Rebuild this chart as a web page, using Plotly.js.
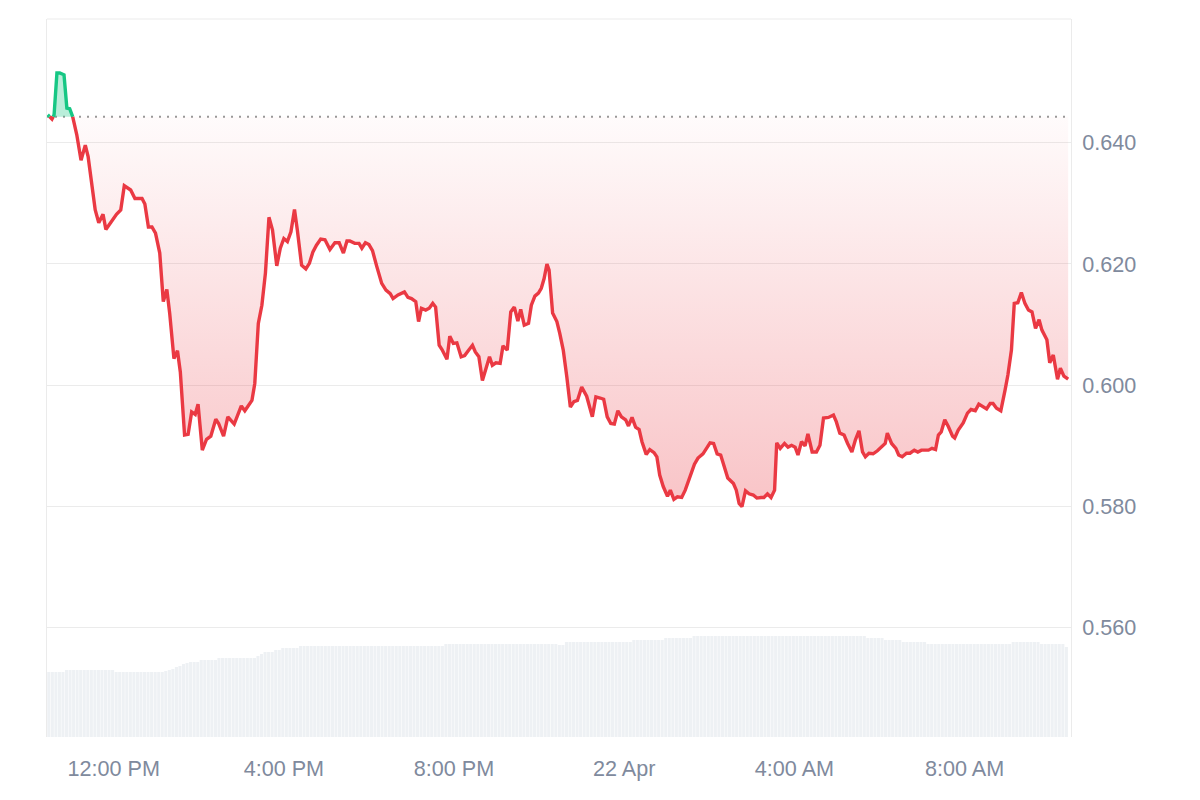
<!DOCTYPE html>
<html><head><meta charset="utf-8">
<script src="https://cdn.plot.ly/plotly-3.0.1.min.js"></script>
<style>html,body{margin:0;padding:0;background:#fff}#chart{width:1200px;height:800px}</style>
</head><body><div id="chart"></div>
<script>
// ---- data ----
const startTime = Date.UTC(2025, 3, 21, 10, 26);   // 21 Apr 10:26
const baselinePrice = 0.6443;                        // price 24h ago (dotted line)

// minutes after start time
const priceMinutes = [1,7,10,14,18,24,28,32,36,42,48,54,58,68,73,79,83,91,98,104,109,118,124,134,138,143,148,153,159,164,169,173,179,184,188,194,199,204,209,213,219,225,231,238,242,249,255,264,274,279,289,293,298,303,308,313,318,324,329,334,339,344,349,353,359,365,370,375,380,386,392,399,406,412,418,423,427,434,440,444,449,454,459,465,472,478,484,488,495,504,509,514,520,524,528,534,539,544,548,553,557,564,568,573,578,584,589,594,600,604,609,614,619,624,628,633,639,643,649,654,659,664,668,673,679,683,688,693,697,701,705,708,713,719,723,728,733,738,743,748,754,761,769,774,780,785,790,795,800,805,810,816,820,825,830,835,839,845,850,856,860,864,869,875,879,884,889,895,900,907,913,918,925,930,935,940,945,950,955,960,968,972,976,980,985,990,996,1001,1007,1011,1016,1021,1026,1029,1034,1040,1045,1050,1055,1059,1064,1069,1073,1079,1085,1090,1095,1102,1109,1113,1118,1124,1129,1135,1140,1145,1150,1154,1159,1165,1171,1177,1182,1185,1191,1197,1201,1206,1212,1217,1223,1228,1233,1243,1248,1253,1257,1261,1266,1271,1277,1280,1285,1292,1298,1303,1309,1314,1320,1325,1330,1334,1339,1345,1351,1355,1360,1364,1369,1374,1379,1384,1389,1394,1399,1403,1410,1414,1419,1425,1429,1434,1440];

const prices = [0.6446,0.6439,0.6446,0.6515,0.6515,0.6512,0.6457,0.6456,0.6444,
0.6413,0.6371,0.6396,0.6377,0.6289,0.6268,0.6282,0.6257,0.6270,0.6282,0.6289,0.6329,0.6322,0.6308,0.6308,0.6299,0.6261,0.6261,0.6251,0.6218,0.6138,0.6158,0.6119,0.6044,0.6057,0.6022,0.5918,0.5919,0.5956,0.5952,0.5969,0.5893,0.5911,0.5916,0.5944,0.5937,0.5916,0.5948,0.5936,0.5966,0.5958,0.5975,0.6003,0.6102,0.6132,0.6185,0.6277,0.6256,0.6197,0.6226,0.6242,0.6237,0.6253,0.6290,0.6256,0.6198,0.6192,0.6201,0.6220,0.6231,0.6241,0.6240,0.6224,0.6235,0.6235,0.6218,0.6238,0.6238,0.6234,0.6234,0.6226,0.6235,0.6232,0.6222,0.6196,0.6168,0.6157,0.6151,0.6143,0.6149,0.6154,0.6145,0.6143,0.6138,0.6105,0.6127,0.6124,0.6127,0.6135,0.6129,0.6066,0.6059,0.6043,0.6081,0.6069,0.6070,0.6047,0.6049,0.6057,0.6066,0.6055,0.6047,0.6008,0.6030,0.6047,0.6033,0.6037,0.6036,0.6065,0.6058,0.6121,0.6129,0.6106,0.6125,0.6099,0.6102,0.6132,0.6147,0.6152,0.6160,0.6176,0.6200,0.6190,0.6119,0.6105,0.6086,0.6058,0.6014,0.5964,0.5973,0.5975,0.5997,0.5982,0.5948,0.5981,0.5979,0.5977,0.5948,0.5937,0.5936,0.5958,0.5948,0.5943,0.5933,0.5947,0.5931,0.5927,0.5907,0.5886,0.5894,0.5889,0.5882,0.5852,0.5833,0.5817,0.5827,0.5812,0.5816,0.5815,0.5827,0.5849,0.5870,0.5880,0.5887,0.5896,0.5905,0.5904,0.5887,0.5885,0.5866,0.5847,0.5838,0.5827,0.5805,0.5800,0.5826,0.5821,0.5819,0.5814,0.5815,0.5815,0.5821,0.5815,0.5827,0.5905,0.5896,0.5904,0.5898,0.5901,0.5898,0.5885,0.5907,0.5900,0.5920,0.5890,0.5890,0.5901,0.5946,0.5947,0.5951,0.5940,0.5921,0.5918,0.5904,0.5890,0.5910,0.5925,0.5890,0.5882,0.5888,0.5887,0.5892,0.5898,0.5904,0.5921,0.5904,0.5896,0.5885,0.5882,0.5888,0.5888,0.5893,0.5890,0.5893,0.5893,0.5896,0.5894,0.5918,0.5923,0.5943,0.5932,0.5916,0.5913,0.5926,0.5938,0.5954,0.5960,0.5958,0.5969,0.5965,0.5961,0.5970,0.5970,0.5962,0.5958,0.5992,0.6017,0.6058,0.6135,0.6136,0.6153,0.6135,0.6124,0.6121,0.6094,0.6108,0.6091,0.6075,0.6037,0.6050,0.6010,0.6028,0.6015,0.6010];

// volume bars, one per 5 minutes (relative units)
const volumeIntervalMinutes = 5;
const volumes = [
650,650,650,650,650,670,670,670,670,670,
670,670,670,670,670,670,670,670,670,650,
650,650,650,650,650,650,650,650,650,650,
650,650,650,660,670,680,700,710,730,740,
750,750,750,770,770,770,770,770,790,790,
790,790,790,790,790,790,790,790,790,810,
830,850,850,850,870,870,890,890,890,890,
890,910,910,910,910,910,910,910,910,910,
910,910,910,910,910,910,910,910,910,910,
910,910,910,910,910,910,910,910,910,910,
910,910,910,910,910,910,910,910,910,910,
910,910,930,930,930,930,930,930,930,930,
930,930,930,930,930,930,930,930,930,930,
930,930,930,930,930,930,930,930,930,930,
930,930,930,930,920,920,950,950,950,950,
950,950,950,950,950,950,950,950,950,950,
950,950,950,950,950,970,970,970,970,970,
970,970,970,970,990,990,990,990,990,990,
990,990,1010,1010,1010,1010,1010,1010,1010,1010,
1010,1010,1010,1010,1010,1010,1010,1010,1010,1010,
1010,1010,1010,1010,1010,1010,1010,1010,1010,1010,
1010,1010,1010,1010,1010,1010,1010,1010,1010,1010,
1010,1010,1010,1010,1010,1010,1010,1010,1010,1010,
1010,990,990,990,990,990,970,970,970,970,
970,950,950,950,950,950,950,950,930,930,
930,930,930,930,930,930,930,930,930,930,
930,930,930,930,930,930,930,930,930,930,
930,930,950,950,950,950,950,950,950,950,
930,930,930,930,930,930,930,900];

const priceTicks = [0.56, 0.58, 0.60, 0.62, 0.64];
const xTickTimes = ['2025-04-21 12:00','2025-04-21 16:00','2025-04-21 20:00','2025-04-22 00:00','2025-04-22 04:00','2025-04-22 08:00'];
const xTickLabels = ['12:00 PM','4:00 PM','8:00 PM','22 Apr','4:00 AM','8:00 AM'];
const rangeMinutes = 1444;

// ---- build ----
function fmt(ms){ return new Date(ms).toISOString().slice(0,23).replace('T',' '); }
const pts = priceMinutes.map((m,i)=>({ms: startTime + m*60000, p: prices[i]}));
const aug = [];
for (let i=0;i<pts.length;i++){
  if (i>0){
    const a=pts[i-1], b=pts[i];
    if ((a.p-baselinePrice)*(b.p-baselinePrice) < 0){
      const f=(baselinePrice-a.p)/(b.p-a.p);
      aug.push({ms: a.ms + f*(b.ms-a.ms), p: baselinePrice});
    }
  }
  aug.push(pts[i]);
}
const X = aug.map(d=>fmt(d.ms));
const base = aug.map(()=>baselinePrice);
const low = aug.map(d=>Math.min(d.p, baselinePrice));
const high = aug.map(d=>Math.max(d.p, baselinePrice));
const redY = aug.map(d=> d.p <= baselinePrice ? d.p : null);
const greenY = aug.map(d=> d.p >= baselinePrice ? d.p : null);
const volX = volumes.map((v,i)=>fmt(startTime + (i*volumeIntervalMinutes + volumeIntervalMinutes/2)*60000));

const RED='#ea3943', GREEN='#16c784';
const traces = [
  {type:'bar', x:volX, y:volumes, yaxis:'y2', marker:{color:'#eef1f4', line:{width:0}},
   width: volumeIntervalMinutes*60000*0.86, hoverinfo:'skip'},
  {x:X, y:base, mode:'lines', line:{width:0, color:'rgba(0,0,0,0)'}, hoverinfo:'skip'},
  {x:X, y:low, mode:'lines', line:{width:0, color:'rgba(0,0,0,0)'}, fill:'tonexty',
   fillgradient:{type:'vertical', start:0.580, stop:baselinePrice,
     colorscale:[[0,'rgba(234,57,67,0.30)'],[1,'rgba(234,57,67,0.02)']]}, hoverinfo:'skip'},
  {x:X, y:base, mode:'lines', line:{width:0, color:'rgba(0,0,0,0)'}, hoverinfo:'skip'},
  {x:X, y:high, mode:'lines', line:{width:0, color:'rgba(0,0,0,0)'}, fill:'tonexty',
   fillcolor:'rgba(22,199,132,0.30)', hoverinfo:'skip'},
  {x:X, y:redY, mode:'lines', line:{color:RED, width:3.4}, connectgaps:false},
  {x:X, y:greenY, mode:'lines', line:{color:GREEN, width:3.4}, connectgaps:false}
];

const GRID='#ebebeb';
const layout = {
  width:1200, height:800,
  margin:{l:47, r:129, t:19, b:63},
  paper_bgcolor:'#fff', plot_bgcolor:'#fff', showlegend:false,
  font:{family:'"Liberation Sans", Arial, sans-serif', size:21.6, color:'#808a9d'},
  xaxis:{type:'date', range:[fmt(startTime), fmt(startTime+rangeMinutes*60000)],
    tickmode:'array', tickvals:xTickTimes, ticktext:xTickLabels,
    showgrid:false, zeroline:false, showline:false, ticks:'', ticklabelstandoff:16, fixedrange:true},
  yaxis:{range:[0.5420, 0.6604], side:'right', tickmode:'array', tickvals:priceTicks, tickformat:'.3f',
    gridcolor:GRID, gridwidth:1, zeroline:false, showline:true, linecolor:GRID, linewidth:1, mirror:true,
    ticks:'', ticklabelstandoff:6, fixedrange:true},
  yaxis2:{overlaying:'y', range:[0, 7180], visible:false, fixedrange:true},
  shapes:[
    {type:'line', xref:'paper', yref:'paper', x0:0, x1:1, y0:1, y1:1, line:{color:GRID, width:1}, layer:'below'},
    {type:'line', xref:'paper', yref:'y', x0:0, x1:1, y0:baselinePrice, y1:baselinePrice,
     line:{color:'#999999', width:2, dash:'2px,6px'}, layer:'below'}
  ]
};
if (priceMinutes.length !== prices.length) layout.title = {text:'LEN MISMATCH '+priceMinutes.length+' vs '+prices.length};
Plotly.newPlot('chart', traces, layout, {displayModeBar:false, staticPlot:true});
</script>
</body></html>
